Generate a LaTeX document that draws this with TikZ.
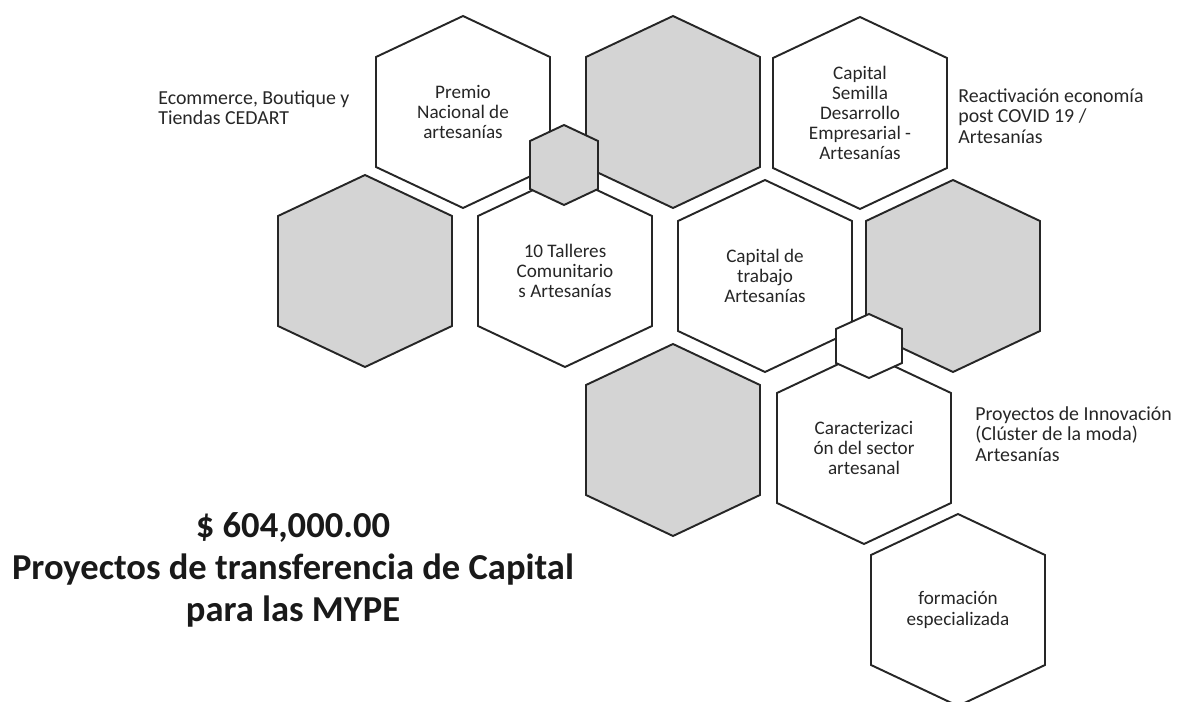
\documentclass[tikz,border=0pt]{standalone}
\usepackage{fontspec}
\setmainfont{Carlito}
\definecolor{hexgray}{RGB}{212,212,212}

\begin{document}
\begin{tikzpicture}[x=0.02cm,y=-0.02cm,
  hexline/.style={line width=1.1pt,draw=black!85},
  hextext/.style={align=center,inner sep=0pt,text=black!85,font=\fontsize{10.9}{11.5}\selectfont},
  sidetext/.style={align=left,anchor=west,inner sep=0pt,text=black!85,font=\fontsize{11.3}{11.6}\selectfont}]
\useasboundingbox (0,0) rectangle (1177,702);

% hexagon centres
\coordinate (P) at (463,112);
\coordinate (G1) at (673,112);
\coordinate (S) at (860,113);
\coordinate (G2) at (365,271);
\coordinate (T) at (565,271);
\coordinate (W) at (765,276);
\coordinate (G3) at (953,276);
\coordinate (G4) at (673,440);
\coordinate (C) at (864,448);
\coordinate (F) at (958,610);
\coordinate (s1) at (564,165);
\coordinate (s2) at (869,346);

% big hexagons
\foreach \c/\f in {P/white,G1/hexgray,S/white,G2/hexgray,T/white,W/white,G3/hexgray,G4/hexgray,C/white,F/white}
  \draw[hexline,fill=\f,shift={(\c)}] (0,-96) -- (87,-55) -- (87,55) -- (0,96) -- (-87,55) -- (-87,-55) -- cycle;

% small ones on top
\draw[hexline,fill=hexgray,shift={(s1)}] (0,-40) -- (34,-24) -- (34,24) -- (0,40) -- (-34,24) -- (-34,-24) -- cycle;
\draw[hexline,fill=white,shift={(s2)}] (0,-32) -- (33,-17) -- (33,17) -- (0,32) -- (-33,17) -- (-33,-17) -- cycle;

\node[hextext] (premio) at (P) {Premio\\Nacional de\\artesanías};
\node[hextext] (semilla) at (S) {Capital\\Semilla\\Desarrollo\\Empresarial -\\Artesanías};
\node[hextext] (talleres) at (T) {10 Talleres\\Comunitario\\s Artesanías};
\node[hextext] (trabajo) at (W) {Capital de\\trabajo\\Artesanías};
\node[hextext] (caracter) at (C) {Caracterizaci\\ón del sector\\artesanal};
\node[hextext] (formacion) at (F) {formación\\especializada};

\node[sidetext] (ecommerce) at (158,108) {Ecommerce, Boutique y\\Tiendas CEDART};
\node[sidetext] (reactivacion) at (958,116) {Reactivación economía\\post COVID 19 /\\Artesanías};
\node[sidetext] (innovacion) at (975,434) {Proyectos de Innovación\\(Clúster de la moda)\\Artesanías};

\node[align=center,inner sep=0pt,text=black!90,font=\fontsize{20.8}{24}\selectfont\bfseries] (total) at (293,570)
  {\$ 604,000.00\\Proyectos de transferencia de Capital\\para las MYPE};

\end{tikzpicture}
\end{document}
